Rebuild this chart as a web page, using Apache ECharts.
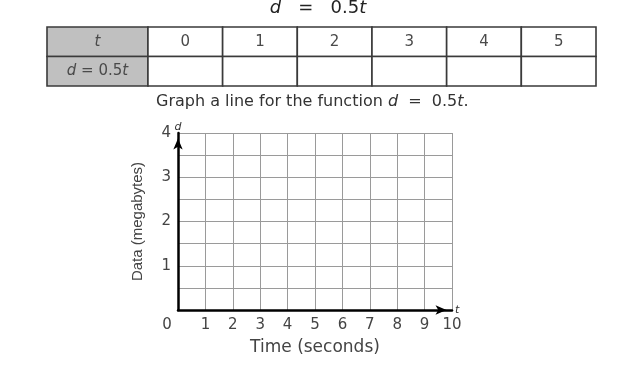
<!DOCTYPE html>
<html><head><meta charset="utf-8">
<script src="https://cdn.jsdelivr.net/npm/echarts@6/dist/echarts.min.js"></script>
<style>html,body{margin:0;padding:0;background:#fff}#c{width:636px;height:366px}</style>
</head><body><div id="c"></div>
<script>
// ---- data ----
const tValues = [0, 1, 2, 3, 4, 5];
const dValues = ['', '', '', '', '', ''];           // table row left blank in the worksheet
const rowLabels = ['{i|t}', '{i|d} = 0.5{i|t}'];
const xTickLabels = ['0', '1', '2', '3', '4', '5', '6', '7', '8', '9', '10'];
const yTickLabels = ['', '1', '2', '3', '4'];
const xRange = [0, 10];
const yRange = [0, 4];
const titleText = '{i|d}   =   0.5{i|t}';
const promptText = 'Graph a line for the function {i|d}  =  0.5{i|t}.';
const xName = 'Time (seconds)';
const yName = 'Data (megabytes)';

// ---- layout constants ----
const HEADER_UNITS = 1.352;
const FONT = 'DejaVu Sans';

const cells = [];
rowLabels.forEach((lab, r) => cells.push({col: -1, row: r, text: lab}));
tValues.forEach((t, i) => {
  cells.push({col: i, row: 0, text: String(t)});
  cells.push({col: i, row: 1, text: dValues[i]});
});

function renderCell(params, api) {
  const cell = cells[params.dataIndex];
  const col = api.value(0), row = api.value(1);
  const left = api.coord([col < 0 ? -HEADER_UNITS : col, row])[0];
  const right = api.coord([col < 0 ? 0 : col + 1, row])[0];
  const cy = api.coord([0, row])[1];
  const h = api.size([0, 1])[1];
  return {
    type: 'group',
    children: [
      {type: 'rect', shape: {x: left, y: cy - h / 2, width: right - left, height: h},
       style: {fill: col < 0 ? '#c0c0c0' : '#ffffff', stroke: '#3a3a3a', lineWidth: 1.6}},
      {type: 'text', style: {text: cell.text, x: (left + right) / 2, y: cy, align: 'center', verticalAlign: 'middle',
        fill: '#4a4a4a', fontSize: 15, fontFamily: FONT,
        rich: {i: {fontStyle: 'italic', fontSize: 15, fontFamily: FONT, fill: '#4a4a4a'}}}}
    ]
  };
}

const arrowLine = {
  show: true, onZero: false, symbol: ['none', 'arrow'], symbolSize: [7, 11], symbolOffset: [0, -5.5],
  lineStyle: {color: '#000', width: 2.5}
};
const gridLine = {show: true, lineStyle: {color: '#9a9a9a', width: 1}};
const labelStyle = {color: '#444', fontFamily: FONT, fontSize: 15};

const chart = echarts.init(document.getElementById('c'));
chart.setOption({
  animation: false,
  backgroundColor: '#fff',
  title: [
    {text: titleText, left: 'center', top: -1, padding: 0,
     textStyle: {fontFamily: FONT, fontSize: 18, fontWeight: 'normal', color: '#222',
       rich: {i: {fontStyle: 'italic', fontSize: 18, fontFamily: FONT, color: '#222'}}}},
    {text: promptText, left: 156, top: 94, padding: 0,
     textStyle: {fontFamily: FONT, fontSize: 16, fontWeight: 'normal', color: '#333',
       rich: {i: {fontStyle: 'italic', fontSize: 16, fontFamily: FONT, color: '#333'}}}}
  ],
  grid: [
    {left: 178, top: 133, width: 274, height: 177},
    {left: 47, top: 27, width: 549, height: 59}
  ],
  xAxis: [
    {gridIndex: 0, type: 'value', min: xRange[0], max: xRange[1], interval: 1,
     axisLine: arrowLine, axisTick: {show: false}, splitLine: gridLine,
     axisLabel: Object.assign({margin: 8,
       formatter: v => v === 0 ? '{z|' + xTickLabels[0] + '}' : xTickLabels[v],
       rich: {z: {padding: [0, 22, 0, 0], color: '#444', fontFamily: FONT, fontSize: 15}}}, labelStyle),
     name: xName, nameLocation: 'middle', nameGap: 29,
     nameTextStyle: {fontFamily: FONT, fontSize: 17, color: '#444'}},
    {gridIndex: 0, type: 'value', min: xRange[0], max: xRange[1], position: 'bottom',
     axisLine: {show: false}, axisTick: {show: false}, axisLabel: {show: false}, splitLine: {show: false},
     name: 't', nameLocation: 'end', nameGap: 3,
     nameTextStyle: {fontFamily: FONT, fontStyle: 'italic', fontSize: 11, color: '#333'}},
    {gridIndex: 1, type: 'value', min: -HEADER_UNITS, max: tValues.length, show: false}
  ],
  yAxis: [
    {gridIndex: 0, type: 'value', min: yRange[0], max: yRange[1], interval: 0.5,
     axisLine: arrowLine, axisTick: {show: false}, splitLine: gridLine,
     axisLabel: Object.assign({margin: 7,
       formatter: v => Number.isInteger(v) ? yTickLabels[v] : ''}, labelStyle),
     name: yName, nameLocation: 'middle', nameGap: 33, nameRotate: 90,
     nameTextStyle: {fontFamily: 'Liberation Sans', fontSize: 15, color: '#444'}},
    {gridIndex: 0, type: 'value', min: yRange[0], max: yRange[1], position: 'left',
     axisLine: {show: false}, axisTick: {show: false}, axisLabel: {show: false}, splitLine: {show: false},
     name: 'd', nameLocation: 'end', nameGap: 0,
     nameTextStyle: {fontFamily: FONT, fontStyle: 'italic', fontSize: 11, color: '#333', align: 'center'}},
    {gridIndex: 1, type: 'category', data: rowLabels, inverse: true, show: false}
  ],
  series: [
    {type: 'custom', xAxisIndex: 2, yAxisIndex: 2, renderItem: renderCell,
     data: cells.map(c => [c.col, c.row]), silent: true}
  ]
});
</script>
</body></html>
